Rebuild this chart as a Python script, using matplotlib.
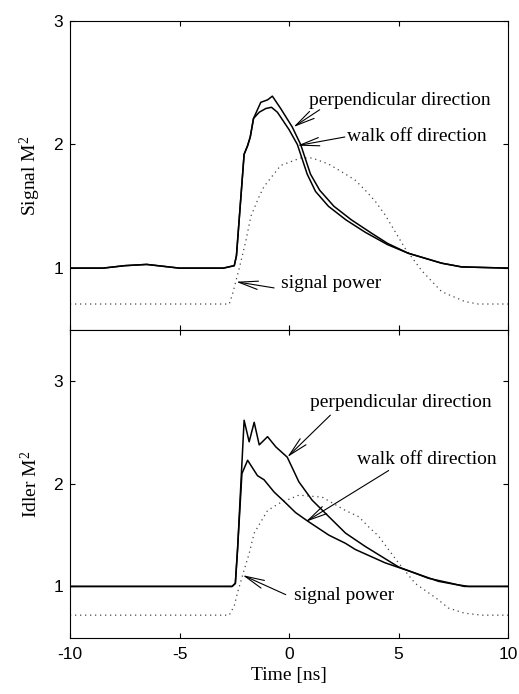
import numpy as np
from matplotlib import pyplot as plt

plt.rcParams['font.family'] = 'Liberation Serif'
plt.rcParams['mathtext.fontset'] = 'custom'
plt.rcParams['mathtext.rm'] = 'Liberation Serif'
plt.rcParams['mathtext.it'] = 'Liberation Serif:italic'
plt.rcParams['axes.unicode_minus'] = False

# upper panel: signal
t_sig_perp = [-10, -8.5, -7.5, -6.5, -5.5, -5, -3, -2.5, -2.4, -2.05, -1.89, -1.77, -1.62,
              -1.29, -0.98, -0.76, -0.38, 0.15, 0.53, 0.98, 1.4, 2.05, 2.85, 3.79, 4.5,
              5.45, 6.97, 7.88, 10]
sig_perp = [1.0, 1.0, 1.02, 1.03, 1.01, 1.0, 1.0, 1.02, 1.1, 1.92, 1.99, 2.06, 2.21,
            2.34, 2.36, 2.39, 2.29, 2.14, 2.0, 1.76, 1.63, 1.5, 1.39, 1.28, 1.2,
            1.12, 1.04, 1.01, 1.0]
t_sig_walk = [-10, -8.5, -7.5, -6.5, -5.5, -5, -3, -2.5, -2.4, -2.05, -1.89, -1.77, -1.62,
              -1.36, -1.06, -0.8, -0.53, 0.0, 0.38, 0.83, 1.21, 1.8, 2.6, 3.48, 4.5,
              5.45, 6.97, 7.88, 10]
sig_walk = [1.0, 1.0, 1.02, 1.03, 1.01, 1.0, 1.0, 1.02, 1.1, 1.92, 1.99, 2.06, 2.21,
            2.26, 2.29, 2.30, 2.26, 2.12, 2.0, 1.76, 1.62, 1.5, 1.39, 1.29, 1.19,
            1.12, 1.04, 1.01, 1.0]
t_sig_pow = [-10, -2.73, -2.58, -2.27, -1.97, -1.74, -1.36, -1.14, -0.38, 0.53, 1.06, 1.82,
             2.58, 3.03, 3.48, 3.94, 4.39, 5.3, 6.06, 6.97, 8.03, 8.64, 10]
sig_pow = [0.71, 0.71, 0.79, 1.0, 1.22, 1.42, 1.58, 1.66, 1.83, 1.89, 1.89, 1.84,
           1.76, 1.71, 1.63, 1.54, 1.43, 1.16, 0.98, 0.81, 0.73, 0.71, 0.71]

# lower panel: idler
t_idl_perp = [-10, -2.6, -2.45, -2.35, -2.05, -1.82, -1.59, -1.36, -0.98, -0.6, -0.08, 0.45,
              1.06, 1.82, 2.58, 3.48, 5.0, 6.36, 7.42, 8.0, 10]
idl_perp = [1.0, 1.0, 1.03, 1.36, 2.62, 2.41, 2.60, 2.38, 2.46, 2.36, 2.26, 2.02,
            1.84, 1.68, 1.52, 1.39, 1.19, 1.08, 1.03, 1.0, 1.0]
t_idl_walk = [-10, -2.6, -2.45, -2.35, -2.15, -1.89, -1.74, -1.44, -1.14, -0.68, -0.23, 0.3,
              0.83, 1.82, 2.58, 3.03, 4.39, 5.76, 6.82, 7.58, 8.2, 10]
idl_walk = [1.0, 1.0, 1.03, 1.36, 2.1, 2.23, 2.18, 2.08, 2.04, 1.92, 1.83, 1.72,
            1.64, 1.50, 1.42, 1.36, 1.23, 1.13, 1.05, 1.02, 1.0, 1.0]
t_idl_pow = [-10, -2.73, -2.5, -2.35, -2.05, -1.82, -1.59, -0.98, -0.45, 0.45, 1.52, 2.58,
             3.18, 3.64, 4.09, 5.0, 5.76, 6.82, 7.27, 8.0, 8.8, 10]
idl_pow = [0.72, 0.72, 0.81, 0.94, 1.16, 1.32, 1.52, 1.74, 1.81, 1.89, 1.87, 1.74,
           1.68, 1.58, 1.49, 1.23, 1.03, 0.87, 0.79, 0.74, 0.72, 0.72]

xticks = [-10, -5, 0, 5, 10]
xticklabels = ['-10', '-5', '0', '5', '10']
yticks = [1, 2, 3]

fig = plt.figure(figsize=(5.19, 6.94), dpi=100)
ax1 = fig.add_axes([0.1349, 0.5245, 0.8439, 0.4457])
ax2 = fig.add_axes([0.1349, 0.0811, 0.8439, 0.4434])

arrow = dict(arrowstyle='->,head_length=1.4,head_width=0.3', lw=0.8, color='black',
             mutation_scale=10, shrinkA=0, shrinkB=0)

for ax in (ax1, ax2):
    ax.set_xlim(-10, 10)
    ax.set_xticks(xticks)
    ax.set_yticks(yticks)
    ax.tick_params(direction='in', top=True, right=True, length=3.5, width=0.8,
                   labelsize=12.5, pad=5)
    for lab in ax.get_yticklabels() + ax.get_xticklabels():
        lab.set_family('Liberation Sans')
    for s in ax.spines.values():
        s.set_linewidth(0.8)

# top panel
ax1.plot(t_sig_pow, sig_pow, color='#444444', linestyle=(0, (1, 3)), linewidth=0.9)
ax1.plot(t_sig_walk, sig_walk, 'k-', linewidth=1.1)
ax1.plot(t_sig_perp, sig_perp, 'k-', linewidth=1.1)
ax1.set_ylim(0.5, 3)
ax1.set_xticklabels([])
ax1.set_ylabel('Signal M$^2$', fontsize=14)
ax1.yaxis.set_label_coords(-0.062, 0.5)

ax1.text(0.91, 2.32, 'perpendicular direction', fontsize=14, va='baseline')
ax1.annotate('', xy=(0.2, 2.14), xytext=(1.4, 2.28), arrowprops=arrow)
ax1.text(2.65, 2.03, 'walk off direction', fontsize=14, va='baseline')
ax1.annotate('', xy=(0.38, 1.99), xytext=(2.55, 2.06), arrowprops=arrow)
ax1.text(-0.38, 0.84, 'signal power', fontsize=14, va='baseline')
ax1.annotate('', xy=(-2.42, 0.89), xytext=(-0.68, 0.84), arrowprops=arrow)

# bottom panel
ax2.plot(t_idl_pow, idl_pow, color='#444444', linestyle=(0, (1, 3)), linewidth=0.9)
ax2.plot(t_idl_walk, idl_walk, 'k-', linewidth=1.1)
ax2.plot(t_idl_perp, idl_perp, 'k-', linewidth=1.1)
ax2.set_ylim(0.5, 3.5)
ax2.set_xticklabels(xticklabels)
ax2.tick_params(axis='x', pad=7)
ax2.set_ylabel('Idler M$^2$', fontsize=14)
ax2.yaxis.set_label_coords(-0.066, 0.5)
ax2.set_xlabel('Time [ns]', fontsize=14)
ax2.xaxis.set_label_coords(0.5, -0.095)

ax2.text(0.98, 2.75, 'perpendicular direction', fontsize=14, va='baseline')
ax2.annotate('', xy=(-0.08, 2.26), xytext=(1.89, 2.67), arrowprops=arrow)
ax2.text(3.1, 2.19, 'walk off direction', fontsize=14, va='baseline')
ax2.annotate('', xy=(0.76, 1.63), xytext=(4.55, 2.13), arrowprops=arrow)
ax2.text(0.23, 0.87, 'signal power', fontsize=14, va='baseline')
ax2.annotate('', xy=(-2.12, 1.11), xytext=(-0.15, 0.92), arrowprops=arrow)

fig.savefig('out.png', dpi=100)
